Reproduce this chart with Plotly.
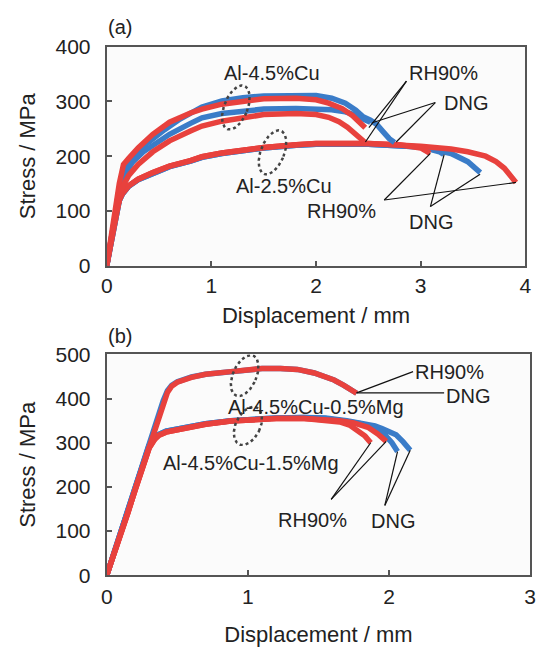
import math
import plotly.graph_objects as go

W, H = 546, 648
RED = "#e8413d"
BLUE = "#3a7cc8"
FONT = "Liberation Sans, Arial, sans-serif"

# ---------------- panel (a) data ----------------
a_cu45_dng1_x = [0, 0.04, 0.08, 0.11, 0.14, 0.18, 0.25, 0.35, 0.44, 0.55, 0.7, 0.91, 1.1, 1.3, 1.5, 1.81, 2.0, 2.15, 2.28, 2.38, 2.45, 2.52, 2.58, 2.64, 2.7, 2.75]
a_cu45_dng1_y = [0, 40, 90, 130, 160, 180, 198, 218, 232, 248, 268, 290, 301, 307, 310, 312, 311, 306, 297, 284, 272, 266, 258, 245, 232, 225]
a_cu45_dng2_x = [0, 0.04, 0.08, 0.11, 0.14, 0.18, 0.25, 0.35, 0.44, 0.6, 0.8, 0.91, 1.1, 1.3, 1.5, 1.81, 2.0, 2.15, 2.28, 2.38, 2.45, 2.52]
a_cu45_dng2_y = [0, 40, 88, 120, 150, 170, 190, 208, 220, 240, 260, 270, 278, 283, 286, 287, 287, 285, 281, 275, 268, 262]
a_cu45_rh1_x = [0, 0.04, 0.08, 0.12, 0.16, 0.21, 0.3, 0.44, 0.6, 0.8, 0.91, 1.1, 1.3, 1.5, 1.81, 2.0, 2.12, 2.25, 2.35, 2.42, 2.47]
a_cu45_rh1_y = [0, 45, 100, 150, 185, 196, 215, 240, 262, 279, 286, 295, 301, 305, 306, 303, 297, 287, 274, 262, 252]
a_cu45_rh2_x = [0, 0.04, 0.08, 0.11, 0.14, 0.21, 0.3, 0.44, 0.6, 0.8, 0.91, 1.1, 1.3, 1.5, 1.81, 2.0, 2.12, 2.22, 2.3, 2.38, 2.43, 2.47]
a_cu45_rh2_y = [0, 40, 85, 115, 140, 165, 185, 208, 228, 246, 255, 264, 271, 276, 278, 276, 271, 263, 253, 240, 230, 225]

a_cu25_dng1_x = [0, 0.04, 0.08, 0.12, 0.15, 0.21, 0.3, 0.44, 0.6, 0.8, 0.91, 1.1, 1.3, 1.5, 1.81, 2.0, 2.5, 2.8, 3.0, 3.1, 3.29, 3.45, 3.52, 3.57]
a_cu25_dng1_y = [0, 44, 88, 119, 131, 145, 157, 169, 181, 191, 198, 205, 211, 215, 220, 222, 222, 220, 217, 213, 205, 190, 180, 170]
a_cu25_dng2_x = [0, 0.04, 0.08, 0.12, 0.15, 0.21, 0.3, 0.44, 0.6, 0.8, 0.91, 1.1, 1.3, 1.5, 1.81, 2.0, 2.5, 2.8, 3.0, 3.1, 3.18, 3.22]
a_cu25_dng2_y = [0, 44, 88, 119, 131, 145, 157, 169, 181, 191, 198, 205, 211, 215, 220, 222, 222, 220, 217, 212, 208, 203]
a_cu25_rh1_x = [0, 0.04, 0.08, 0.12, 0.15, 0.21, 0.3, 0.44, 0.6, 0.8, 0.91, 1.1, 1.3, 1.5, 1.81, 2.0, 2.5, 2.8, 3.0, 3.29, 3.45, 3.62, 3.72, 3.8, 3.86, 3.91]
a_cu25_rh1_y = [0, 45, 90, 120, 132, 146, 158, 170, 182, 192, 199, 206, 212, 216, 221, 223, 223, 221, 218, 213, 208, 200, 190, 178, 165, 152]
a_cu25_rh2_x = [0, 0.04, 0.08, 0.12, 0.15, 0.21, 0.3, 0.44, 0.6, 0.8, 0.91, 1.1, 1.3, 1.5, 1.81, 2.0, 2.5, 2.8, 3.0, 3.09]
a_cu25_rh2_y = [0, 45, 90, 120, 132, 146, 158, 170, 182, 192, 199, 206, 212, 216, 221, 223, 223, 221, 215, 205]

# ---------------- panel (b) data ----------------
b_mg05_dng_x = [0, 0.05, 0.1, 0.15, 0.2, 0.25, 0.3, 0.35, 0.4, 0.43, 0.46, 0.5, 0.6, 0.7, 0.88, 1.0, 1.1, 1.23, 1.35, 1.47, 1.55, 1.61, 1.68, 1.73, 1.77]
b_mg05_dng_y = [0, 50, 100, 148, 198, 246, 296, 345, 395, 418, 430, 438, 449, 455, 461, 466, 468, 468, 466, 458, 450, 442, 430, 420, 412]
b_mg05_rh_x = [0, 0.05, 0.1, 0.15, 0.2, 0.25, 0.3, 0.35, 0.4, 0.43, 0.46, 0.5, 0.6, 0.7, 0.88, 1.0, 1.1, 1.23, 1.35, 1.47, 1.55, 1.61, 1.68, 1.73, 1.77]
b_mg05_rh_y = [0, 45, 95, 142, 192, 240, 290, 338, 390, 414, 428, 437, 448, 455, 461, 466, 468, 468, 466, 458, 450, 442, 430, 420, 412]

b_mg15_dng1_x = [0, 0.05, 0.1, 0.15, 0.2, 0.25, 0.3, 0.34, 0.37, 0.42, 0.5, 0.6, 0.7, 0.88, 1.0, 1.2, 1.4, 1.55, 1.7, 1.8, 1.9, 1.97, 2.02, 2.06]
b_mg15_dng1_y = [0, 50, 100, 148, 198, 246, 294, 312, 319, 326, 331, 338, 343, 350, 353, 356, 357, 355, 348, 343, 333, 318, 300, 280]
b_mg15_dng2_x = [0, 0.05, 0.1, 0.15, 0.2, 0.25, 0.3, 0.34, 0.37, 0.42, 0.5, 0.6, 0.7, 0.88, 1.0, 1.2, 1.4, 1.55, 1.7, 1.8, 1.9, 1.95, 2.05, 2.1, 2.15]
b_mg15_dng2_y = [0, 50, 100, 148, 198, 246, 294, 312, 319, 326, 331, 338, 343, 350, 353, 356, 357, 356, 350, 345, 338, 332, 318, 302, 283]
b_mg15_rh1_x = [0, 0.05, 0.1, 0.15, 0.2, 0.25, 0.3, 0.34, 0.37, 0.42, 0.5, 0.6, 0.7, 0.88, 1.0, 1.2, 1.4, 1.55, 1.65, 1.72, 1.78, 1.83, 1.87]
b_mg15_rh1_y = [0, 45, 95, 142, 192, 240, 288, 308, 317, 324, 330, 337, 342, 349, 352, 355, 355, 352, 347, 340, 328, 315, 300]
b_mg15_rh2_x = [0, 0.05, 0.1, 0.15, 0.2, 0.25, 0.3, 0.34, 0.37, 0.42, 0.5, 0.6, 0.7, 0.88, 1.0, 1.2, 1.4, 1.55, 1.65, 1.75, 1.85, 1.92, 1.98]
b_mg15_rh2_y = [0, 45, 95, 142, 192, 240, 288, 308, 317, 324, 330, 337, 342, 349, 352, 355, 355, 353, 350, 345, 335, 320, 303]

# ---------------- layout geometry ----------------
XA_DOM = [103 / W, 531 / W]
YA_DOM = [1 - 263 / H, 1 - 36 / H]
XB_DOM = [103 / W, 536 / W]
YB_DOM = [1 - 584 / H, 1 - 355 / H]
XA_RANGE, YA_RANGE = [0, 4], [0, 400]
XB_RANGE, YB_RANGE = [0, 3], [0, 500]

fig = go.Figure()

def add_curve(x, y, color, xa, ya):
    fig.add_trace(go.Scatter(x=x, y=y, mode="lines", xaxis=xa, yaxis=ya,
                             line=dict(color=color, width=5.5), showlegend=False,
                             hoverinfo="skip"))

# panel a
add_curve(a_cu25_dng1_x, a_cu25_dng1_y, BLUE, "x", "y")
add_curve(a_cu25_dng2_x, a_cu25_dng2_y, BLUE, "x", "y")
add_curve(a_cu25_rh1_x, a_cu25_rh1_y, RED, "x", "y")
add_curve(a_cu25_rh2_x, a_cu25_rh2_y, RED, "x", "y")
add_curve(a_cu45_dng1_x, a_cu45_dng1_y, BLUE, "x", "y")
add_curve(a_cu45_dng2_x, a_cu45_dng2_y, BLUE, "x", "y")
add_curve(a_cu45_rh1_x, a_cu45_rh1_y, RED, "x", "y")
add_curve(a_cu45_rh2_x, a_cu45_rh2_y, RED, "x", "y")
# panel b
add_curve(b_mg15_dng2_x, b_mg15_dng2_y, BLUE, "x2", "y2")
add_curve(b_mg15_dng1_x, b_mg15_dng1_y, BLUE, "x2", "y2")
add_curve(b_mg05_dng_x, b_mg05_dng_y, BLUE, "x2", "y2")
add_curve(b_mg15_rh2_x, b_mg15_rh2_y, RED, "x2", "y2")
add_curve(b_mg15_rh1_x, b_mg15_rh1_y, RED, "x2", "y2")
add_curve(b_mg05_rh_x, b_mg05_rh_y, RED, "x2", "y2")

# dotted ellipses (center in data units, axes in pixels, tilt in degrees)
def ellipse(cx, cy, a_px, b_px, tilt, xdom, ydom, xr, yr, xa, ya):
    pxx = (xdom[1] - xdom[0]) * W / (xr[1] - xr[0])
    pxy = (ydom[1] - ydom[0]) * H / (yr[1] - yr[0])
    t = math.radians(tilt)
    xs, ys = [], []
    for i in range(121):
        th = 2 * math.pi * i / 120
        u = b_px * math.cos(th)
        v = a_px * math.sin(th)
        dx = u * math.cos(t) + v * math.sin(t)
        dy = -u * math.sin(t) + v * math.cos(t)
        xs.append(cx + dx / pxx)
        ys.append(cy + dy / pxy)
    fig.add_trace(go.Scatter(x=xs, y=ys, mode="lines", xaxis=xa, yaxis=ya,
                             line=dict(color="#444", width=2.5, dash="dot"),
                             showlegend=False, hoverinfo="skip"))

ellipse(1.234, 289, 24, 12, 21, XA_DOM, YA_DOM, XA_RANGE, YA_RANGE, "x", "y")
ellipse(1.584, 207, 24, 12, 21, XA_DOM, YA_DOM, XA_RANGE, YA_RANGE, "x", "y")
ellipse(0.977, 452, 22.5, 12, 23, XB_DOM, YB_DOM, XB_RANGE, YB_RANGE, "x2", "y2")
ellipse(1.0, 338, 21, 12.5, 25, XB_DOM, YB_DOM, XB_RANGE, YB_RANGE, "x2", "y2")

# leader lines
def leader(x0, y0, x1, y1, xr, yr):
    fig.add_shape(type="line", x0=x0, y0=y0, x1=x1, y1=y1, xref=xr, yref=yr,
                  line=dict(color="#111", width=1.2))

leader(2.864, 337, 2.505, 252, "x", "y")
leader(2.864, 337, 2.472, 226, "x", "y")
leader(3.14, 298, 2.537, 261, "x", "y")
leader(3.14, 298, 2.766, 226, "x", "y")
leader(2.652, 120, 3.093, 205, "x", "y")
leader(2.652, 120, 3.911, 152, "x", "y")
leader(3.093, 108, 3.224, 203, "x", "y")
leader(3.093, 108, 3.568, 167, "x", "y")

leader(2.17, 461, 1.77, 413, "x2", "y2")
leader(2.39, 413, 1.77, 413, "x2", "y2")
leader(1.59, 172, 1.87, 300, "x2", "y2")
leader(1.59, 172, 1.98, 303, "x2", "y2")
leader(1.97, 158, 2.06, 280, "x2", "y2")
leader(1.97, 158, 2.15, 283, "x2", "y2")

def label(text, x, y, xr, yr):
    fig.add_annotation(text=text, x=x, y=y, xref=xr, yref=yr, showarrow=False,
                       font=dict(family=FONT, size=20, color="#222"),
                       xanchor="center", yanchor="middle")

label("Al-4.5%Cu", 1.58, 352, "x", "y")
label("Al-2.5%Cu", 1.69, 146, "x", "y")
label("RH90%", 3.22, 352, "x", "y")
label("DNG", 3.43, 298, "x", "y")
label("RH90%", 2.24, 99, "x", "y")
label("DNG", 3.10, 79, "x", "y")

label("RH90%", 2.43, 461, "x2", "y2")
label("DNG", 2.56, 406, "x2", "y2")
label("Al-4.5%Cu-0.5%Mg", 1.48, 380, "x2", "y2")
label("Al-4.5%Cu-1.5%Mg", 1.02, 255, "x2", "y2")
label("RH90%", 1.46, 124, "x2", "y2")
label("DNG", 2.03, 122, "x2", "y2")

# panel letters
fig.add_annotation(text="(a)", x=102 / W, y=1 - 16 / H, xref="paper", yref="paper",
                   showarrow=False, xanchor="left", yanchor="middle",
                   font=dict(family=FONT, size=20, color="#222"))
fig.add_annotation(text="(b)", x=102 / W, y=1 - 336 / H, xref="paper", yref="paper",
                   showarrow=False, xanchor="left", yanchor="middle",
                   font=dict(family=FONT, size=20, color="#222"))

axis_common = dict(showline=True, mirror=True, linecolor="#555", linewidth=2,
                   ticks="inside", ticklen=5, tickcolor="#555", tickwidth=1.5,
                   showgrid=False, zeroline=False,
                   tickfont=dict(family=FONT, size=21, color="#222"))
title_font = dict(family=FONT, size=22, color="#222")

fig.update_layout(
    width=W, height=H,
    margin=dict(l=0, r=0, t=0, b=0),
    paper_bgcolor="white", plot_bgcolor="#fbfbfb",
    xaxis=dict(domain=XA_DOM, range=XA_RANGE, dtick=1, anchor="y",
               ticklabelstandoff=0,
               title=dict(text="Displacement / mm", standoff=12, font=title_font),
               **axis_common),
    yaxis=dict(domain=YA_DOM, range=YA_RANGE, dtick=100, anchor="x",
               ticklabelstandoff=10,
               title=dict(text="Stress / MPa", standoff=14, font=title_font),
               **axis_common),
    xaxis2=dict(domain=XB_DOM, range=XB_RANGE, dtick=1, anchor="y2",
                ticklabelstandoff=2,
                title=dict(text="Displacement / mm", standoff=19, font=title_font),
                **axis_common),
    yaxis2=dict(domain=YB_DOM, range=YB_RANGE, dtick=100, anchor="x2",
                ticklabelstandoff=10,
                title=dict(text="Stress / MPa", standoff=14, font=title_font),
                **axis_common),
)

fig.write_html("out.html")
